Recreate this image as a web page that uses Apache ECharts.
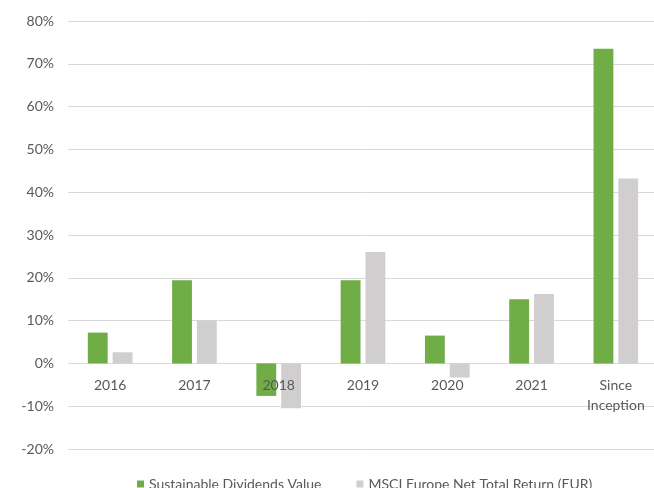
<!DOCTYPE html>
<html><head><meta charset="utf-8">
<script src="https://cdn.jsdelivr.net/npm/echarts@6/dist/echarts.min.js"></script>
<style>html,body{margin:0;padding:0;background:#fff}#c{width:654px;height:488px}</style>
</head><body><div id="c"></div>
<script>
const categories = ['2016','2017','2018','2019','2020','2021','Since\nInception'];
const sdvValues = [7.2, 19.4, -7.6, 19.4, 6.5, 15.0, 73.5];
const msciValues = [2.6, 10.0, -10.5, 26.0, -3.3, 16.2, 43.2];
const seriesNames = ['Sustainable Dividends Value', 'MSCI Europe Net Total Return (EUR)'];
const yMin = -20, yMax = 80, yStep = 10;

const font = 'Lato';
const gridTop = 21, gridBottom = 39, H = 488;
const plotH = H - gridTop - gridBottom;
const zeroOffset = -plotH * (0 - yMin) / (yMax - yMin);

const chart = echarts.init(document.getElementById('c'));
chart.setOption({
  animation: false,
  textStyle: {fontFamily: font},
  grid: {left: 68, right: -4, top: gridTop, bottom: gridBottom, containLabel: false, outerBoundsMode: 'none'},
  legend: {
    data: seriesNames, left: 132, top: 472, icon: 'rect', itemWidth: 7, itemHeight: 7, itemGap: 35,
    textStyle: {fontFamily: font, fontSize: 14, color: '#595959'}
  },
  xAxis: {
    type: 'category', data: categories, offset: zeroOffset, z: 10,
    axisLine: {show: false, onZero: false},
    axisTick: {show: false},
    axisLabel: {color: '#595959', fontSize: 14, fontFamily: font, margin: 12, lineHeight: 20, interval: 0}
  },
  yAxis: {
    type: 'value', min: yMin, max: yMax, interval: yStep,
    axisLine: {show: false}, axisTick: {show: false},
    axisLabel: {color: '#595959', fontSize: 14, fontFamily: font, margin: 14, formatter: v => v + '%'},
    splitLine: {lineStyle: {color: '#d9d9d9'}}
  },
  series: [
    {name: seriesNames[0], type: 'bar', z: 1, data: sdvValues, itemStyle: {color: '#70AD47'}, barGap: '25%', barCategoryGap: '47%'},
    {name: seriesNames[1], type: 'bar', z: 1, data: msciValues, itemStyle: {color: '#D0CECE'}}
  ]
});
</script></body></html>
